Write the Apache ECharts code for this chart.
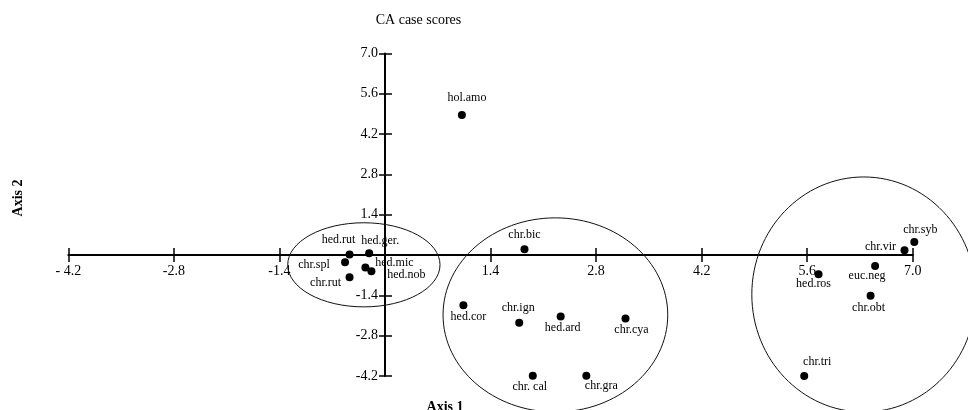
<!DOCTYPE html>
<html>
<head>
<meta charset="utf-8">
<title>CA case scores</title>
<script src="https://cdn.jsdelivr.net/npm/echarts@6/dist/echarts.min.js"></script>
<style>
    html, body { margin: 0; padding: 0; background: #fff; }
    #chart { width: 968px; height: 410px; }
</style>
</head>
<body>
<div id="chart"></div>
<script>
// species codes and their CA scores (axis 1, axis 2)
var names = ['hol.amo', 'hed.rut', 'hed.ger.', 'chr.spl', 'hed.mic', 'hed.nob', 'chr.rut',
    'chr.bic', 'hed.cor', 'chr.ign', 'hed.ard', 'chr.cya', 'chr. cal', 'chr.gra',
    'chr.syb', 'chr.vir', 'euc.neg', 'hed.ros', 'chr.obt', 'chr.tri'];
var axis1 = [1.02, -0.47, -0.21, -0.53, -0.26, -0.18, -0.47,
    1.85, 1.04, 1.78, 2.33, 3.19, 1.96, 2.67,
    7.02, 6.89, 6.50, 5.75, 6.44, 5.56];
var axis2 = [4.86, 0.02, 0.06, -0.25, -0.43, -0.56, -0.77,
    0.20, -1.74, -2.35, -2.13, -2.20, -4.19, -4.19,
    0.45, 0.17, -0.38, -0.67, -1.41, -4.20];

// group ellipses: centre and half widths in score units
var groupX = [-0.28, 2.26, 6.35];
var groupY = [-0.34, -2.08, -1.37];
var groupRX = [1.01, 1.49, 1.485];
var groupRY = [1.46, 3.37, 4.08];

// tick labels (no label at 0)
var xTickLabels = ['- 4.2', '-2.8', '-1.4', '', '1.4', '2.8', '4.2', '5.6', '7.0'];
var yTickLabels = ['-4.2', '-2.8', '-1.4', '', '1.4', '2.8', '4.2', '5.6', '7.0'];

// where each name sits relative to its dot (px)
var labelOffsets = [[5, -17], [-11, -15], [11, -12], [-31, 3], [29, -5], [35, 4], [-24, 6],
    [0, -14], [5, 12], [-1, -15], [2, 11], [6, 11], [-3, 11], [15, 10],
    [6, -12], [-24, -3], [-8, 10], [-5, 10], [-2, 12], [13, -14]];

(function () {
    var chart = echarts.init(document.getElementById('chart'));
    var font = "'Liberation Serif', 'Times New Roman', serif";
    var ink = '#000';

    var points = names.map(function (n, i) {
        return {
            name: n,
            value: [axis1[i], axis2[i]],
            label: { offset: labelOffsets[i] }
        };
    });
    var groups = groupX.map(function (x, i) {
        return [x, groupY[i], groupRX[i], groupRY[i]];
    });

    var grid = { left: 68.3, top: 53.4, width: 844.5, height: 322.6 };
    var zeroY = grid.top + 7 / 11.2 * grid.height;      // pixel row of y = 0
    var zeroX = grid.left + 4.2 / 11.2 * grid.width;    // pixel column of x = 0
    var xShift = zeroY - (grid.top + grid.height);      // move bottom axis up to y = 0
    var yShift = grid.left - zeroX;                     // move left axis right to x = 0

    var baseAxis = {
        type: 'value',
        min: -4.2,
        max: 7.0,
        interval: 1.4,
        splitLine: { show: false }
    };
    var tickStyle = { color: ink, width: 1.5 };

    var option = {
        animation: false,
        backgroundColor: '#fff',
        textStyle: { fontFamily: font, color: ink },
        grid: Object.assign({ outerBoundsMode: 'none', containLabel: false }, grid),
        graphic: [
            {
                type: 'text', x: 418.5, y: 20,
                style: { text: 'CA case scores', font: '14px ' + font, fill: ink, align: 'center', verticalAlign: 'middle' }
            },
            {
                type: 'text', x: 445, y: 407,
                style: { text: 'Axis 1', font: 'bold 14px ' + font, fill: ink, align: 'center', verticalAlign: 'middle' }
            },
            {
                type: 'text', x: 18, y: 198, rotation: Math.PI / 2,
                style: { text: 'Axis 2', font: 'bold 14px ' + font, fill: ink, align: 'center', verticalAlign: 'middle' }
            }
        ],
        xAxis: [
            Object.assign({}, baseAxis, {
                position: 'bottom',
                offset: xShift,
                axisLine: { onZero: false, lineStyle: { color: ink, width: 2 } },
                axisTick: { inside: false, length: 7, lineStyle: tickStyle },
                axisLabel: {
                    margin: 9, fontSize: 14, fontFamily: font, color: ink,
                    formatter: function (v, i) { return xTickLabels[i]; }
                }
            }),
            // upper half of the crossing ticks
            Object.assign({}, baseAxis, {
                position: 'bottom',
                offset: xShift,
                axisLine: { show: false, onZero: false },
                axisTick: { inside: true, length: 7, lineStyle: tickStyle },
                axisLabel: { show: false }
            })
        ],
        yAxis: [
            Object.assign({}, baseAxis, {
                position: 'left',
                offset: yShift,
                axisLine: { onZero: false, lineStyle: { color: ink, width: 2 } },
                axisTick: { inside: false, length: 6, lineStyle: tickStyle },
                axisLabel: {
                    margin: 7, fontSize: 14, fontFamily: font, color: ink,
                    formatter: function (v, i) { return yTickLabels[i]; }
                }
            }),
            Object.assign({}, baseAxis, {
                position: 'left',
                offset: yShift,
                axisLine: { show: false, onZero: false },
                axisTick: { inside: true, length: 7, lineStyle: tickStyle },
                axisLabel: { show: false }
            })
        ],
        series: [
            {
                type: 'custom',
                xAxisIndex: 0,
                yAxisIndex: 0,
                silent: true,
                clip: false,
                data: groups,
                renderItem: function (params, api) {
                    var c = api.coord([api.value(0), api.value(1)]);
                    var s = api.size([api.value(2), api.value(3)]);
                    return {
                        type: 'ellipse',
                        shape: { cx: c[0], cy: c[1], rx: s[0], ry: s[1] },
                        style: { fill: 'none', stroke: '#111', lineWidth: 1 }
                    };
                }
            },
            {
                type: 'scatter',
                xAxisIndex: 0,
                yAxisIndex: 0,
                clip: false,
                symbol: 'circle',
                symbolSize: 8,
                itemStyle: { color: ink, opacity: 1 },
                label: {
                    show: true,
                    position: 'inside',
                    align: 'center',
                    verticalAlign: 'middle',
                    fontSize: 12,
                    fontFamily: font,
                    color: ink,
                    opacity: 1,
                    textBorderWidth: 0,
                    formatter: function (p) { return p.name; }
                },
                data: points
            }
        ]
    };
    chart.setOption(option);
})();
</script>
</body>
</html>
